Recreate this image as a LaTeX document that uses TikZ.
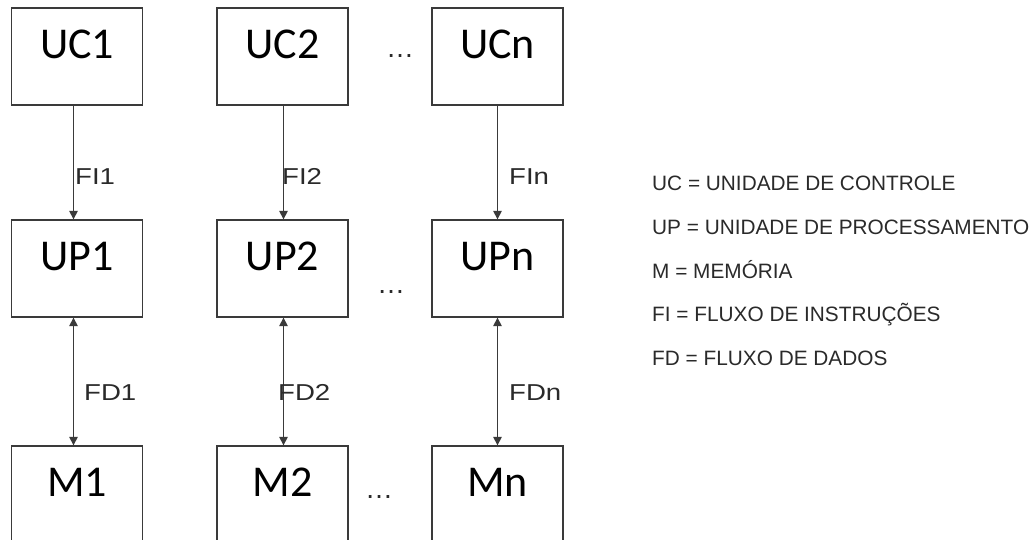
\documentclass[tikz,border=0pt]{standalone}
\usepackage{fontspec}
\setmainfont{Carlito}
\newfontfamily\lblfont[FakeStretch=1.2]{Liberation Sans}
\newfontfamily\legfont{Liberation Sans}
\usepackage{tikz}
\usetikzlibrary{arrows.meta}
\definecolor{boxgray}{HTML}{3A3A3A}
\definecolor{txtgray}{HTML}{2A2A2A}

\begin{document}
\begin{tikzpicture}[x=1pt, y=-1pt,
      unit/.style={draw=boxgray, line width=1.3pt, minimum width=131pt,
                   minimum height=97pt, inner sep=0pt, text height=30pt,
                   text depth=26pt, font=\fontsize{44}{50}\selectfont},
      flow/.style={anchor=base west, inner sep=0pt, text=txtgray,
                   font=\lblfont\fontsize{23}{26}\selectfont},
      dots/.style={inner sep=0pt, text=txtgray,
                   font=\legfont\fontsize{28}{30}\selectfont},
      leg/.style={anchor=base west, inner sep=0pt, text=txtgray,
                  font=\legfont\fontsize{20.8}{24}\selectfont},
      arr/.style={-{Triangle[length=8.5pt, width=8.5pt]}, line width=1.2pt, boxgray},
      darr/.style={{Triangle[length=8.5pt, width=8.5pt]}-{Triangle[length=8.5pt, width=8.5pt]},
                   line width=1.2pt, boxgray}
    ]
    \useasboundingbox[fill=white] (0,0) rectangle (1031,540);

    \node[unit] (uc1) at (77,   56.5) {UC1};
    \node[unit] (uc2) at (282.5,56.5) {UC2};
    \node[unit] (ucn) at (497.5,56.5) {UCn};

    \node[unit] (up1) at (77,   268.5) {UP1};
    \node[unit] (up2) at (282.5,268.5) {UP2};
    \node[unit] (upn) at (497.5,268.5) {UPn};

    \node[unit] (m1) at (77,   494.5) {M1};
    \node[unit] (m2) at (282.5,494.5) {M2};
    \node[unit] (mn) at (497.5,494.5) {Mn};

    \node[dots] (d1) at (400, 56) {…};
    \node[dots] (d2) at (391,292) {…};
    \node[dots] (d3) at (379,497) {…};

    \draw[arr] ([xshift=-3.5pt]uc1.south) -- ([xshift=-3.5pt]up1.north);
    \draw[arr] ([xshift=1pt]uc2.south) -- ([xshift=1pt]up2.north);
    \draw[arr] (ucn.south) -- (upn.north);

    \draw[darr] ([xshift=-3.5pt]up1.south) -- ([xshift=-3.5pt]m1.north);
    \draw[darr] ([xshift=1pt]up2.south) -- ([xshift=1pt]m2.north);
    \draw[darr] (upn.south) -- (mn.north);

    \node[flow] (fi1) at (75, 185) {FI1};
    \node[flow] (fi2) at (282,185) {FI2};
    \node[flow] (fin) at (509,185) {FIn};
    \node[flow] (fd1) at (84, 400) {FD1};
    \node[flow] (fd2) at (278,400) {FD2};
    \node[flow] (fdn) at (509,400) {FDn};

    \node[leg] (l1) at (652,191) {UC = UNIDADE DE CONTROLE};
    \node[leg] (l2) at (652,234.5) {UP = UNIDADE DE PROCESSAMENTO};
    \node[leg] (l3) at (652,278) {M = MEMÓRIA};
    \node[leg] (l4) at (652,321.5) {FI = FLUXO DE INSTRUÇÕES};
    \node[leg] (l5) at (652,365) {FD = FLUXO DE DADOS};
  \end{tikzpicture}
\end{document}
